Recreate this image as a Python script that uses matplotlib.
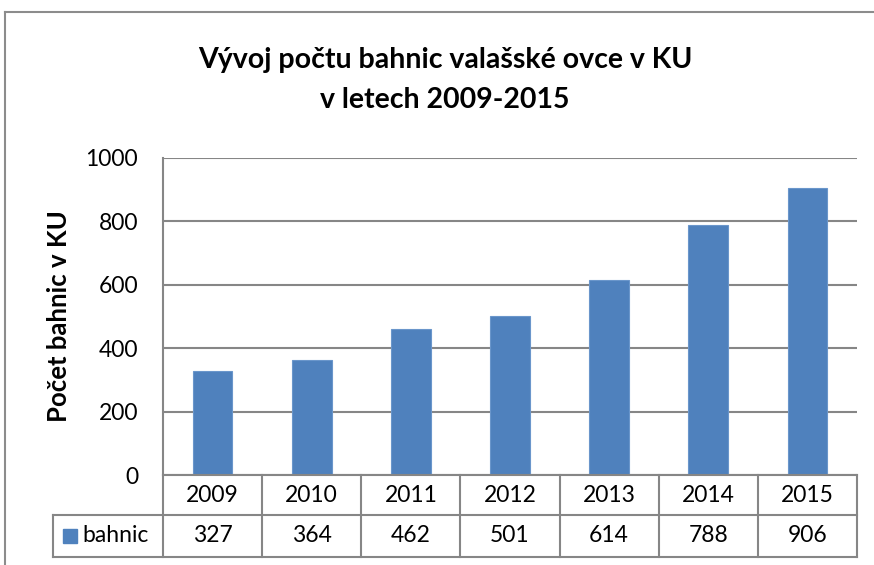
import matplotlib
matplotlib.use("Agg")
import matplotlib.pyplot as plt
from matplotlib.transforms import blended_transform_factory
from matplotlib.lines import Line2D
from matplotlib.patches import Rectangle

years = ["2009", "2010", "2011", "2012", "2013", "2014", "2015"]
bahnic = [327, 364, 462, 501, 614, 788, 906]
series_name = "bahnic"
yticks = [0, 200, 400, 600, 800, 1000]

FONT = ["Lato", "DejaVu Sans"]
W, H = 874, 565
fig = plt.figure(figsize=(W / 100, H / 100), dpi=100)

# plot area in pixels
L, R, T, B = 163, 857, 158, 475
ax = fig.add_axes([L / W, 1 - B / H, (R - L) / W, (B - T) / H])

grid_c = "#868686"
bar_c = "#4F81BD"
x = list(range(len(years)))
ax.bar(x, bahnic, width=0.4, color=bar_c, edgecolor="#6A96CB", linewidth=0.8, zorder=3)
ax.set_xlim(-0.5, len(years) - 0.5)
ax.set_ylim(0, 1000)
ax.set_yticks(yticks)
ax.set_yticklabels([str(v) for v in yticks], fontsize=16.5, family=FONT)
ax.tick_params(axis="y", length=0, pad=18)
ax.set_xticks([])
for v in yticks:
    ax.axhline(v, color=grid_c, linewidth=1.5, zorder=1)
for s in ["top", "right", "bottom"]:
    ax.spines[s].set_visible(False)
ax.spines["left"].set_color(grid_c)
ax.spines["left"].set_linewidth(1.5)

ax.set_ylabel("Počet bahnic v KU", fontsize=18.5, fontweight="bold", family=FONT, labelpad=10)

# data table below axes
trans = blended_transform_factory(ax.transData, ax.transAxes)
ph = B - T
r1 = -40 / ph
r2 = -82 / ph
left_ext = -0.5 - 110 / ((R - L) / len(years))
n = len(years)
lw = 1.5
ax.add_line(Line2D([-0.5, n - 0.5], [0, 0], transform=trans, color=grid_c, lw=lw, clip_on=False, zorder=4))
ax.add_line(Line2D([left_ext, n - 0.5], [r1, r1], transform=trans, color=grid_c, lw=lw, clip_on=False))
ax.add_line(Line2D([left_ext, n - 0.5], [r2, r2], transform=trans, color=grid_c, lw=lw, clip_on=False))
for i in range(n + 1):
    ax.add_line(Line2D([i - 0.5, i - 0.5], [0, r2], transform=trans, color=grid_c, lw=lw, clip_on=False))
ax.add_line(Line2D([left_ext, left_ext], [r1, r2], transform=trans, color=grid_c, lw=lw, clip_on=False))
for i, (yr, v) in enumerate(zip(years, bahnic)):
    ax.text(i, r1 / 2, yr, transform=trans, ha="center", va="center", fontsize=16.5, family=FONT)
    ax.text(i, (r1 + r2) / 2, str(v), transform=trans, ha="center", va="center", fontsize=16.5, family=FONT)
# legend key in table
ax.add_patch(Rectangle((left_ext + 0.1, (r1 + r2) / 2 - 0.022), 0.14, 0.044, transform=trans,
                       color=bar_c, clip_on=False))
ax.text(left_ext + 0.3, (r1 + r2) / 2, series_name, transform=trans, ha="left", va="center",
        fontsize=16.5, family=FONT)

# title
fig.text(445 / W, 1 - 60 / H, "Vývoj počtu bahnic valašské ovce v KU",
         ha="center", va="center", fontsize=20.5, fontweight="bold", family=FONT)
fig.text(445 / W, 1 - 100 / H, "v letech 2009-2015",
         ha="center", va="center", fontsize=20.5, fontweight="bold", family=FONT)

# chart border (partially visible)
fig.add_artist(Line2D([5 / W, 5 / W], [0, 1 - 12 / H], transform=fig.transFigure, color="#8C8C8C", lw=1.5))
fig.add_artist(Line2D([5 / W, 1], [1 - 12 / H, 1 - 12 / H], transform=fig.transFigure, color="#8C8C8C", lw=1.5))

fig.savefig("out.png", dpi=100)
